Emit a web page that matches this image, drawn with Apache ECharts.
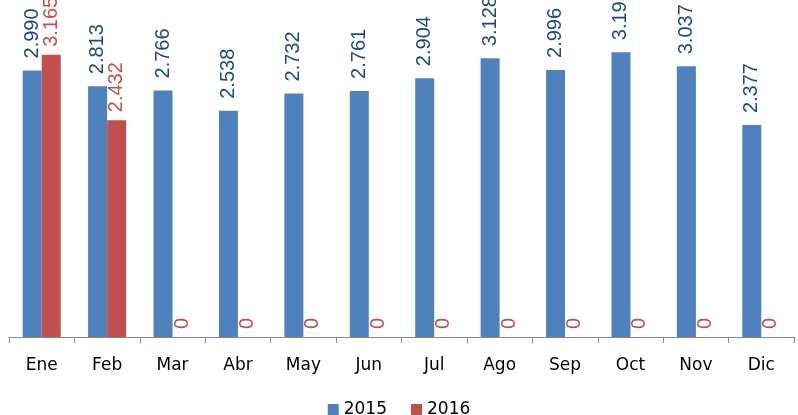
<!DOCTYPE html>
<html>
<head>
<meta charset="utf-8">
<script src="https://cdn.jsdelivr.net/npm/echarts@6/dist/echarts.min.js"></script>
<style>
  html, body { margin: 0; padding: 0; background: #fff; }
  #chart { width: 798px; height: 415px; }
</style>
</head>
<body>
<div id="chart"></div>
<script>
// meses y valores
let months = ['Ene', 'Feb', 'Mar', 'Abr', 'May', 'Jun', 'Jul', 'Ago', 'Sep', 'Oct', 'Nov', 'Dic']
let data2015 = [2990, 2813, 2766, 2538, 2732, 2761, 2904, 3128, 2996, 3195, 3037, 2377]
let data2016 = [3165, 2432, 0, 0, 0, 0, 0, 0, 0, 0, 0, 0]

// separador de miles con punto
function fmt(p) {
  let v = p.value
  if (v >= 1000) {
    let s = String(v % 1000)
    while (s.length < 3) s = '0' + s
    return Math.floor(v / 1000) + '.' + s
  }
  return String(v)
}

let chart = echarts.init(document.getElementById('chart'))
chart.setOption({
  animation: false,
  grid: {
    left: 9,
    right: 4,
    top: 25,
    bottom: 78,
  },
  legend: {
    top: 396,
    icon: 'rect',
    itemWidth: 11,
    itemHeight: 11,
    itemGap: 24,
    textStyle: {
      fontFamily: 'DejaVu Sans',
      fontSize: 17,
      color: '#000',
    },
    data: ['2015', '2016'],
  },
  xAxis: {
    type: 'category',
    data: months,
    axisLine: { lineStyle: { color: '#888', width: 1 } },
    axisTick: { show: true, length: 6, lineStyle: { color: '#888' } },
    axisLabel: {
      margin: 20,
      fontFamily: 'DejaVu Sans',
      fontSize: 17,
      color: '#000',
    },
  },
  yAxis: {
    type: 'value',
    min: 0,
    max: 3500,
    show: false,
    splitLine: { show: false },
  },
  series: [
    {
      name: '2015',
      type: 'bar',
      barWidth: 19,
      barGap: '0%',
      itemStyle: { color: '#4F81BD' },
      label: {
        show: true,
        position: 'top',
        rotate: 90,
        align: 'left',
        verticalAlign: 'middle',
        distance: 12,
        fontFamily: 'Liberation Sans',
        fontSize: 20,
        color: '#1F497D',
        formatter: fmt,
      },
      data: data2015,
    },
    {
      name: '2016',
      type: 'bar',
      barWidth: 19,
      barGap: '0%',
      itemStyle: { color: '#C0504D' },
      label: {
        show: true,
        position: 'top',
        rotate: 90,
        align: 'left',
        verticalAlign: 'middle',
        distance: 8,
        fontFamily: 'Liberation Sans',
        fontSize: 20,
        color: '#C0504D',
        formatter: fmt,
      },
      data: data2016,
    },
  ],
})
</script>
</body>
</html>
